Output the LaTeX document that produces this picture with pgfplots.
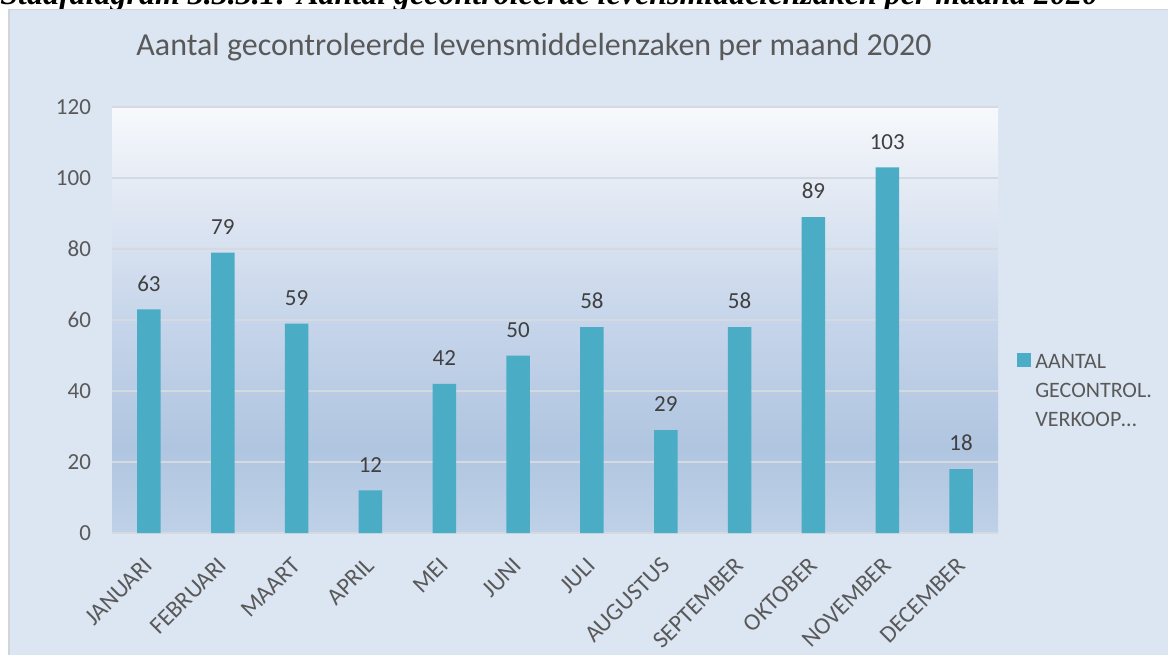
\documentclass[border=0pt]{standalone}
\usepackage{pgfplots}
\pgfplotsset{compat=1.18}
\usepackage{fontspec}
\setmainfont{Carlito}
\newfontfamily\capfont{Liberation Serif}
\definecolor{bgc}{HTML}{DCE6F2}
\definecolor{framec}{HTML}{D0D5DC}
\definecolor{barc}{HTML}{4BACC6}
\definecolor{tickc}{HTML}{595959}
\definecolor{labc}{HTML}{404040}
\definecolor{gridc}{HTML}{D5DAE1}
\definecolor{p0}{HTML}{BED1E7}
\definecolor{p1}{HTML}{B0C5E0}
\definecolor{p2}{HTML}{C6D5EA}
\definecolor{p3}{HTML}{DEE6F2}
\definecolor{p4}{HTML}{F7F9FC}
\pgfdeclareverticalshading{plotbg}{100bp}{color(0bp)=(p0); color(25bp)=(p0); color(35bp)=(p1); color(50bp)=(p2); color(62.5bp)=(p3); color(75bp)=(p4); color(100bp)=(p4)}
\begin{document}
\begin{tikzpicture}
\useasboundingbox (0pt,0pt) rectangle (584pt,-327pt);
\clip (0pt,0pt) rectangle (584pt,-327pt);
\fill[white] (0pt,0pt) rectangle (584pt,-327pt);
\node[anchor=base west, inner sep=0pt, font=\capfont\bfseries\itshape\fontsize{16}{19}\selectfont] at (0pt,-2.2pt) {Staafdiagram 3.3.3.1: Aantal gecontroleerde levensmiddelenzaken per maand 2020};
\fill[bgc] (4.5pt,-4.8pt) rectangle (600pt,-340pt);
\draw[framec, line width=0.8pt] (4.5pt,-340pt) -- (4.5pt,-4.8pt) -- (600pt,-4.8pt);
\node[anchor=base, inner sep=0pt, text=tickc, font=\fontsize{16}{19}\selectfont] at (267pt,-27.5pt) {Aantal gecontroleerde levensmiddelenzaken per maand 2020};
\begin{axis}[
  at={(56pt,-266.5pt)}, anchor=south west,
  width=443pt, height=213pt, scale only axis,
  xmin=0.5, xmax=12.5, ymin=0, ymax=120,
  ytick={0,20,...,120},
  xtick={1,...,12},
  xticklabels={JANUARI,FEBRUARI,MAART,APRIL,MEI,JUNI,JULI,AUGUSTUS,SEPTEMBER,OKTOBER,NOVEMBER,DECEMBER},
  /pgf/number format/assume math mode=true,
  axis line style={draw=none},
  major tick length=0pt,
  ymajorgrids, grid style={gridc, line width=1pt},
  axis background/.style={shade, shading=plotbg},
  ybar, bar width=11.75pt,
  every tick label/.append style={text=tickc},
  yticklabel style={font=\fontsize{11.5}{13}\selectfont, xshift=-7pt},
  xticklabel style={font=\fontsize{12}{14}\selectfont, xshift=-2.9pt, yshift=-6.6pt, rotate=45, anchor=north east},
  nodes near coords,
  nodes near coords style={font=\fontsize{11.5}{13}\selectfont, text=labc, yshift=5.5pt},
  legend style={at={(1.0214,0.43)}, anchor=north west, draw=none, fill=none, inner sep=0pt,
     font=\fontsize{11}{14.5}\selectfont, text=tickc, nodes={align=left}},
  legend image code/.code={\fill[barc] (0pt,12.5pt) rectangle (7pt,19.5pt);},
]
\addplot[fill=barc, draw=none] coordinates {(1,63) (2,79) (3,59) (4,12) (5,42) (6,50) (7,58) (8,29) (9,58) (10,89) (11,103) (12,18)};
\addlegendentry{AANTAL\\GECONTROL.\\VERKOOP…}
\end{axis}
\end{tikzpicture}
\end{document}
